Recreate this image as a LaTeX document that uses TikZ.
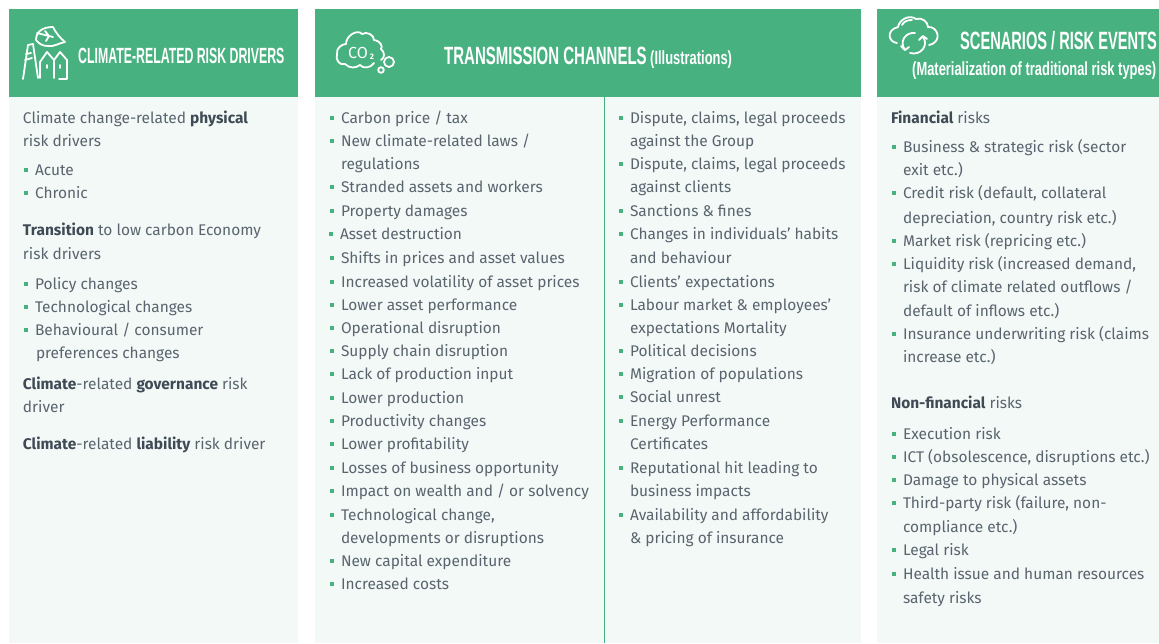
\documentclass[tikz,border=0pt]{standalone}
\usepackage{fontspec}
\setmainfont{Fira Sans}[Scale=1]
\newfontfamily\condA[FakeStretch=0.56]{Liberation Sans Bold}
\newfontfamily\condB[FakeStretch=0.60]{Liberation Sans Bold}
\newfontfamily\condC[FakeStretch=0.585]{Liberation Sans Bold}
\newfontfamily\condD[FakeStretch=0.68]{Liberation Sans Bold}
\definecolor{hdr}{HTML}{47B180}
\definecolor{pane}{HTML}{F2F9F7}
\definecolor{txt}{HTML}{59646E}
\definecolor{strong}{HTML}{3F4A55}
\definecolor{bul}{HTML}{47B180}
\newcount\nn
\newcommand{\mk}{\global\advance\nn by 1 }
\newcommand{\tl}[3]{\mk\node[line] (n\the\nn) at (#1,#2+5) {#3};}
\newcommand{\bl}[3]{\mk\node[bullet] (b\the\nn) at (#1+2,#2) {};\node[line] (n\the\nn) at (#1+11,#2+5) {#3};}
\newcommand{\st}[1]{{\bfseries\color{strong}#1}}
\tikzset{
 x=1pt,y=-1pt,
 line/.style={anchor=base west,inner sep=0pt,outer sep=0pt,font=\fontsize{15.45}{18}\selectfont,text=txt},
 bullet/.style={fill=bul,draw=none,minimum size=4pt,inner sep=0pt},
 hbox/.style={fill=hdr,draw=none},
 pbox/.style={fill=pane,draw=none},
 icon/.style={draw=white,line width=1.8pt,line cap=round,line join=round,fill=none},
 head/.style={anchor=base west,inner sep=0pt,text=white},
}
\begin{document}
\begin{tikzpicture}
\useasboundingbox (0,0) rectangle (1159,643);
\fill[white] (0,0) rectangle (1159,643);
% panels
\fill[pbox] (9,97) rectangle (298,643);
\fill[pbox] (315,97) rectangle (861,643);
\fill[pbox] (877,97) rectangle (1159,643);
\fill[hbox] (9,9) rectangle (298,97);
\fill[hbox] (315,9) rectangle (861,97);
\fill[hbox] (877,9) rectangle (1159,97);
\draw[hdr,line width=1pt] (604.5,97) -- (604.5,643);
% headers
\node[head,font=\condA\fontsize{22}{24}\selectfont] (h1) at (78,63) {CLIMATE-RELATED RISK DRIVERS};
\node[head,font=\condB\fontsize{25}{28}\selectfont] (h2) at (444,64) {TRANSMISSION CHANNELS};
\node[head,font=\condD\fontsize{19}{22}\selectfont] (h2b) at (650,64) {(Illustrations)};
\node[head,font=\condC\fontsize{25}{28}\selectfont] (h3) at (960,49) {SCENARIOS / RISK EVENTS};
\node[head,font=\condD\fontsize{19}{22}\selectfont] (h3b) at (912,75) {(Materialization of traditional risk types)};
% icon 1
\draw[icon] (36,40) .. controls (36,32) and (42,27) .. (53,27) .. controls (56,33) and (60,38) .. (65,42) .. controls (59,43) and (54,47) .. (48,46) .. controls (43,46) and (39,44) .. (36,40);
\draw[icon] (37,33) -- (53,37) (45,31) -- (49,36) -- (46,41);
\draw[icon] (23,79) -- (28,45) -- (33,44) -- (38,78);
\draw[icon] (25,60) -- (32,58) (26,54) -- (31,53);
\draw[icon] (40,78) -- (40,62) -- (47,52) -- (54,60) -- (54,78);
\draw[icon] (54,60) -- (60,52) -- (67,60) -- (67,79) -- (59,79);
\draw[icon] (47,65) -- (47,68) (60,65) -- (60,68);
% icon 2
\draw[icon] (345,64) .. controls (340,66) and (335,60) .. (337,54) .. controls (336,48) and (342,44) .. (346,44) .. controls (346,35) and (358,29) .. (362,34) .. controls (367,31) and (374,35) .. (374,40) .. controls (381,41) and (383,47) .. (381,49);
\draw[icon] (381,49) .. controls (385,52) and (385,58) .. (381,60);
\draw[icon] (345,64) .. controls (350,69) and (356,68) .. (360,65) .. controls (363,69) and (371,68) .. (374,63);
\node[inner sep=0pt,text=white,font=\fontsize{16}{18}\selectfont] (co) at (358,53) {CO};
\node[inner sep=0pt,text=white,font=\bfseries\fontsize{8}{9}\selectfont] (two) at (372,57) {2};
\draw[icon] (389,62) circle (5);
\draw[icon] (381,70) circle (2.8);
% icon 3
\draw[icon] (897,43) .. controls (888,42) and (886,30) .. (898,27) .. controls (899,20) and (909,14) .. (916,19) .. controls (922,17) and (928,22) .. (928,27) .. controls (938,26) and (943,42) .. (929,45);
\draw[icon] (902,25) .. controls (904,21) and (908,20) .. (912,20);
\draw[icon] (905,50) .. controls (899,42) and (905,32) .. (915,33);
\draw[icon] (901,46) -- (905,50) -- (909,47);
\draw[icon] (923,37) .. controls (929,45) and (921,56) .. (910,53);
\draw[icon] (919,40) -- (923,36) -- (927,39);
% column 1
\tl{23}{118}{Climate change-related \st{physical}}
\tl{23}{141}{risk drivers}
\bl{24}{170}{Acute}
\bl{24}{193}{Chronic}
\tl{23}{230}{\st{Transition} to low carbon Economy}
\tl{23}{254}{risk drivers}
\bl{24}{284}{Policy changes}
\bl{24}{307}{Technological changes}
\bl{24}{330}{Behavioural / consumer}
\tl{36}{353}{preferences changes}
\tl{23}{384}{\st{Climate}-related \st{governance} risk}
\tl{23}{407}{driver}
\tl{23}{444}{\st{Climate}-related \st{liability} risk driver}
% column 2
\bl{330}{118}{Carbon price / tax}
\bl{330}{141}{New climate-related laws /}
\tl{341}{164}{regulations}
\bl{330}{187}{Stranded assets and workers}
\bl{330}{211}{Property damages}
\bl{329}{234}{Asset destruction}
\bl{330}{258}{Shifts in prices and asset values}
\bl{330}{282}{Increased volatility of asset prices}
\bl{330}{305}{Lower asset performance}
\bl{330}{328}{Operational disruption}
\bl{330}{351}{Supply chain disruption}
\bl{330}{374}{Lack of production input}
\bl{330}{398}{Lower production}
\bl{330}{421}{Productivity changes}
\bl{330}{444}{Lower profitability}
\bl{330}{468}{Losses of business opportunity}
\bl{330}{491}{Impact on wealth and / or solvency}
\bl{330}{515}{Technological change,}
\tl{341}{538}{developments or disruptions}
\bl{330}{561}{New capital expenditure}
\bl{330}{584}{Increased costs}
% column 3
\bl{619}{118}{Dispute, claims, legal proceeds}
\tl{630}{141}{against the Group}
\bl{619}{164}{Dispute, claims, legal proceeds}
\tl{630}{187}{against clients}
\bl{619}{211}{Sanctions \& fines}
\bl{619}{234}{Changes in individuals’ habits}
\tl{630}{258}{and behaviour}
\bl{619}{282}{Clients’ expectations}
\bl{619}{305}{Labour market \& employees’}
\tl{630}{328}{expectations Mortality}
\bl{619}{351}{Political decisions}
\bl{619}{374}{Migration of populations}
\bl{619}{397}{Social unrest}
\bl{619}{421}{Energy Performance}
\tl{630}{444}{Certificates}
\bl{619}{468}{Reputational hit leading to}
\tl{630}{491}{business impacts}
\bl{619}{515}{Availability and affordability}
\tl{630}{538}{\& pricing of insurance}
% column 4
\tl{891}{118}{\st{Financial} risks}
\bl{892}{147}{Business \& strategic risk (sector}
\tl{903}{170}{exit etc.)}
\bl{892}{193}{Credit risk (default, collateral}
\tl{903}{218}{depreciation, country risk etc.)}
\bl{892}{241}{Market risk (repricing etc.)}
\bl{892}{264}{Liquidity risk (increased demand,}
\tl{903}{287}{risk of climate related outflows /}
\tl{903}{311}{default of inflows etc.)}
\bl{892}{334}{Insurance underwriting risk (claims}
\tl{903}{357}{increase etc.)}
\tl{891}{403}{\st{Non-financial} risks}
\bl{892}{434}{Execution risk}
\bl{892}{457}{ICT (obsolescence, disruptions etc.)}
\bl{892}{480}{Damage to physical assets}
\bl{892}{503}{Third-party risk (failure, non-}
\tl{903}{527}{compliance etc.)}
\bl{892}{550}{Legal risk}
\bl{892}{574}{Health issue and human resources}
\tl{903}{598}{safety risks}
\end{tikzpicture}
\end{document}
